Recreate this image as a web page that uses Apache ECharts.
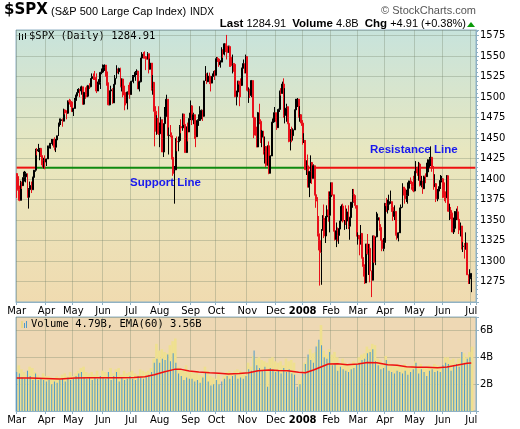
<!DOCTYPE html>
<html>
<head>
<meta charset="utf-8">
<script src="https://cdn.jsdelivr.net/npm/echarts/dist/echarts.min.js"></script>
<style>
html, body { margin: 0; padding: 0; background: #fff; }
#chart { width: 520px; height: 429px; }
</style>
</head>
<body>
<div id="chart"></div>
<script>
// month tick labels and the trading-day index where each month starts
var monthLabels = ['Mar','Apr','May','Jun','Jul','Aug','Sep','Oct','Nov','Dec','2008','Feb','Mar','Apr','May','Jun','Jul'];
var monthStarts = [0,22,42,64,85,106,129,148,171,192,212,233,253,273,295,316,337];
var slotCount = 341; // a few empty days at the right edge

// $SPX daily, Mar 1 2007 .. Jul 1 2008
var closes = [
  1403.2,1387.2,1374.1,1395.4,1392.0,1401.9,1402.8,1406.6,1377.9,1387.2,1392.3,1387.0,1402.1,1410.9,1435.0,1434.5,1436.1,1437.5,1428.6,1417.2,1422.5,1420.9,
  1424.6,1437.8,1439.4,1443.8,1444.6,1448.4,1438.9,1447.8,1452.9,1468.3,1471.5,1472.5,1470.7,1484.4,1480.9,1480.4,1495.4,1494.3,1494.1,1482.4,
  1486.3,1495.9,1502.4,1505.6,1509.5,1507.7,1512.6,1491.5,1505.9,1503.2,1501.2,1514.1,1512.8,1522.8,1525.1,1524.1,1522.3,1507.5,1515.7,1518.1,1530.2,1530.6,
  1536.3,1539.2,1530.9,1517.4,1490.7,1507.7,1509.1,1493.0,1515.7,1523.0,1532.9,1531.1,1535.0,1512.8,1522.2,1502.6,1497.7,1492.9,1506.3,1505.7,1503.4,
  1519.4,1524.9,1525.4,1530.4,1531.9,1510.1,1518.8,1547.7,1552.5,1549.5,1549.4,1546.2,1553.1,1534.1,1541.6,1511.0,1518.1,1482.7,1459.0,1473.9,1455.3,
  1465.8,1472.2,1433.1,1467.7,1476.7,1497.5,1453.1,1453.6,1452.9,1426.5,1406.7,1411.3,1445.9,1445.6,1447.1,1464.1,1462.5,1479.4,1466.8,1432.4,1463.8,1457.6,1474.0,
  1489.4,1472.3,1478.6,1453.6,1451.7,1471.5,1471.6,1484.0,1484.3,1476.7,1519.8,1529.0,1518.8,1525.8,1517.7,1517.2,1525.4,1531.4,1526.8,
  1547.0,1546.6,1539.6,1542.8,1557.6,1552.6,1565.2,1562.5,1554.4,1561.8,1548.7,1538.5,1541.2,1540.1,1500.6,1506.3,1519.6,1515.9,1514.4,1535.3,1541.0,1531.0,1549.4,
  1508.4,1509.7,1502.2,1520.3,1475.6,1474.8,1453.7,1439.2,1481.1,1470.6,1451.2,1458.7,1433.3,1439.7,1416.8,1440.7,1407.2,1428.2,1469.0,1469.7,1481.1,
  1472.4,1462.8,1485.0,1507.3,1504.7,1516.0,1477.7,1486.6,1488.4,1468.0,1445.9,1455.0,1453.0,1460.1,1484.5,1496.5,1497.7,1476.3,1478.5,1468.4,
  1447.2,1447.2,1411.6,1416.2,1390.2,1409.1,1420.3,1401.0,1416.3,1381.0,1373.2,1333.3,1325.2,1310.5,1338.6,1352.1,1330.6,1354.0,1362.3,1355.8,1378.6,
  1395.4,1380.8,1336.6,1326.5,1336.9,1331.3,1339.1,1348.9,1367.2,1348.9,1350.0,1348.8,1360.0,1342.5,1353.1,1371.8,1381.3,1380.0,1367.7,1330.6,
  1331.3,1326.8,1333.7,1304.3,1293.4,1273.4,1320.7,1308.8,1315.5,1288.1,1276.6,1330.7,1298.4,1329.5,1349.9,1353.0,1341.1,1325.8,1315.2,1322.7,
  1370.2,1367.5,1369.3,1370.4,1372.5,1365.5,1354.5,1360.6,1332.8,1328.3,1334.4,1364.7,1365.6,1390.3,1388.2,1375.9,1379.9,1388.8,1397.8,1396.4,1390.9,1385.6,
  1409.3,1413.9,1407.5,1418.3,1392.6,1397.7,1388.3,1403.6,1403.0,1408.7,1423.6,1425.4,1426.6,1413.4,1390.7,1394.4,1375.9,1385.4,1390.8,1398.3,1400.4,
  1385.7,1377.7,1377.2,1404.1,1360.7,1361.8,1358.4,1335.5,1339.9,1360.0,1360.1,1350.9,1337.8,1342.8,1317.9,1318.0,1314.3,1322.0,1283.2,1278.4,1280.0,
  1284.9
];
var highs = [
  1406,1403,1392,1398,1397,1409,1410,1409,1404,1389,1397,1397,1403,1411,1437,1438,1443,1438,1437,1428,1426,1429,
  1425,1441,1441,1444,1449,1449,1451,1449,1453,1469,1474,1474,1474,1486,1485,1484,1496,1498,1497,1495,
  1487,1499,1503,1510,1511,1509,1514,1512,1506,1512,1514,1515,1517,1523,1529,1529,1532,1529,1519,1522,1531,1535,
  1540,1540,1539,1530,1518,1508,1514,1511,1516,1527,1539,1535,1536,1536,1523,1521,1514,1506,1507,1515,1518,
  1520,1527,1527,1532,1534,1532,1520,1548,1555,1555,1556,1549,1555,1553,1547,1541,1527,1518,1489,1478,1489,
  1469,1476,1473,1468,1488,1503,1497,1463,1466,1457,1430,1416,1450,1452,1452,1466,1473,1480,1479,1467,1464,1469,1481,
  1496,1489,1481,1478,1462,1473,1479,1489,1485,1484,1520,1538,1529,1530,1530,1518,1529,1532,1533,
  1549,1549,1547,1545,1561,1558,1566,1565,1576,1563,1563,1548,1552,1541,1540,1508,1520,1519,1523,1536,1546,1541,1552,
  1549,1512,1510,1521,1520,1482,1475,1464,1482,1492,1473,1460,1459,1452,1439,1441,1446,1429,1470,1474,1488,
  1481,1472,1486,1508,1511,1519,1523,1511,1492,1487,1468,1461,1464,1462,1485,1498,1499,1493,1489,1475,
  1472,1456,1444,1423,1430,1410,1429,1419,1418,1412,1391,1378,1355,1322,1339,1356,1369,1355,1368,1385,1385,
  1396,1396,1380,1345,1347,1341,1340,1367,1369,1370,1350,1368,1364,1368,1354,1372,1388,1388,1380,1367,
  1335,1331,1344,1333,1303,1296,1321,1333,1321,1321,1285,1331,1331,1330,1360,1358,1353,1345,1334,1328,
  1371,1377,1375,1381,1386,1370,1368,1368,1360,1335,1335,1365,1369,1395,1390,1388,1387,1396,1398,1402,1397,1404,
  1410,1422,1415,1421,1420,1404,1395,1404,1407,1420,1424,1427,1440,1424,1416,1406,1394,1388,1391,1405,1404,
  1400,1396,1385,1405,1404,1370,1366,1359,1353,1361,1364,1367,1351,1347,1342,1323,1322,1335,1321,1283,1290,
  1285
];
var lows = [
  1377,1386,1373,1374,1388,1392,1397,1396,1377,1364,1387,1383,1387,1400,1409,1429,1433,1423,1427,1414,1413,1412,
  1416,1425,1436,1437,1443,1441,1435,1433,1440,1453,1464,1466,1464,1471,1479,1473,1480,1491,1488,1482,
  1477,1486,1496,1501,1505,1500,1503,1491,1491,1498,1500,1500,1510,1512,1522,1521,1521,1505,1508,1513,1510,1528,
  1530,1532,1525,1514,1490,1490,1506,1492,1493,1515,1523,1529,1528,1512,1507,1500,1484,1490,1485,1503,1498,
  1503,1519,1517,1520,1527,1510,1507,1518,1545,1547,1547,1533,1546,1529,1534,1508,1503,1440,1458,1454,1454,
  1439,1460,1433,1427,1455,1476,1453,1430,1451,1424,1404,1370,1411,1434,1434,1447,1456,1459,1466,1432,1432,1446,1458,
  1472,1466,1467,1449,1439,1452,1465,1472,1473,1471,1477,1520,1516,1519,1516,1507,1518,1526,1521,
  1527,1543,1537,1536,1543,1548,1551,1555,1546,1554,1537,1537,1529,1531,1500,1490,1504,1489,1500,1515,1536,1529,1529,
  1507,1493,1499,1500,1475,1450,1453,1439,1440,1467,1444,1439,1430,1419,1415,1418,1406,1407,1429,1458,1470,
  1470,1460,1463,1482,1502,1504,1475,1468,1470,1467,1445,1435,1445,1447,1463,1485,1488,1475,1470,1465,
  1442,1444,1411,1405,1390,1378,1395,1394,1402,1380,1365,1330,1313,1270,1271,1337,1328,1322,1350,1348,1335,
  1379,1380,1336,1325,1317,1324,1321,1339,1350,1347,1338,1344,1339,1339,1326,1344,1365,1372,1364,1330,
  1320,1307,1320,1303,1281,1272,1274,1308,1283,1274,1256,1277,1298,1295,1329,1342,1337,1325,1312,1312,
  1321,1360,1358,1362,1370,1360,1349,1350,1331,1326,1324,1335,1360,1366,1380,1370,1372,1370,1380,1394,1387,1384,
  1385,1406,1404,1398,1391,1390,1382,1388,1395,1404,1406,1414,1416,1409,1387,1391,1372,1373,1378,1388,1396,
  1377,1373,1371,1377,1360,1350,1351,1335,1333,1341,1350,1350,1333,1330,1314,1311,1303,1315,1283,1272,1272,
  1262
];
var firstOpen = 1406.8; // close of the day before the first bar

// volume, billions
var volumes = [
  2.9,3.4,2.8,3.1,2.5,2.9,2.4,2.7,3.0,3.3,2.6,3.2,2.3,2.9,2.8,2.7,2.3,2.5,2.4,2.8,2.3,2.6,
  2.2,2.6,2.3,2.5,2.0,2.4,2.2,2.6,2.1,2.5,2.3,2.7,2.4,2.8,2.2,2.6,2.5,2.9,2.3,2.6,
  2.4,2.8,2.6,3.0,2.8,3.2,2.9,3.3,2.5,2.9,2.4,2.8,2.5,2.9,2.3,2.7,2.5,3.0,2.4,2.6,2.6,3.0,
  2.5,2.9,2.4,2.8,2.9,3.2,2.3,2.8,2.6,3.1,2.9,3.2,2.2,2.7,2.5,3.0,2.3,2.8,2.4,2.9,2.6,
  3.0,2.4,2.8,2.3,2.7,2.6,3.1,2.5,3.0,2.4,2.9,2.6,3.0,2.7,3.2,2.9,3.9,3.6,5.0,3.9,4.5,
  3.6,4.6,3.9,4.4,3.8,4.3,4.2,4.9,3.7,5.2,4.3,5.4,3.6,3.3,2.8,3.1,2.6,3.0,2.3,3.4,2.5,2.9,2.4,
  3.0,2.4,2.8,2.2,2.9,2.3,2.7,2.1,2.6,2.5,3.3,2.9,3.0,2.2,2.6,1.9,2.5,2.0,2.4,
  2.3,2.8,2.0,1.6,2.2,2.6,2.4,2.9,2.6,3.0,2.4,2.8,2.6,3.0,2.7,3.1,2.4,3.0,2.5,2.9,2.4,2.7,2.6,
  3.6,3.1,3.3,3.0,4.1,4.5,3.9,3.4,4.0,3.2,3.8,3.0,3.7,3.3,3.6,1.8,3.9,3.2,4.0,3.1,3.7,
  2.9,3.6,3.0,3.7,2.8,3.4,3.2,3.9,2.9,3.7,3.1,3.8,2.8,3.6,2.7,1.0,1.8,2.3,2.0,2.6,
  2.8,3.6,3.5,4.0,4.2,4.6,3.8,4.3,3.6,4.4,4.8,5.1,5.3,6.4,4.9,4.5,4.0,4.2,3.9,4.6,4.4,
  4.2,3.4,4.4,3.5,4.0,3.0,3.5,3.3,3.9,3.1,3.6,3.0,3.5,2.9,3.4,3.1,3.7,3.2,3.6,3.5,
  4.0,3.6,4.2,3.8,4.3,3.9,4.8,4.3,4.6,4.4,5.0,4.6,4.9,3.7,3.9,3.4,3.8,3.1,3.5,3.2,
  4.1,3.8,3.7,3.0,3.4,2.9,3.3,2.8,3.5,3.0,3.4,2.9,3.3,2.8,3.5,3.0,3.3,2.7,3.2,2.9,3.4,3.1,
  3.7,3.6,3.3,2.8,3.5,3.1,3.2,2.9,3.3,2.6,3.4,3.0,3.2,3.1,3.5,2.9,3.4,3.0,3.3,2.9,3.3,
  3.4,4.0,3.6,4.0,3.5,3.8,3.0,3.9,3.4,3.6,3.5,3.9,3.3,4.0,4.4,4.3,3.6,4.0,3.9,4.4,4.0,
  4.79
];

// EMA(60) of volume: [day index, billions]
var emaPoints = [
  [0,2.45],[10,2.45],[21,2.42],[32,2.38],[43,2.45],[54,2.48],[65,2.47],[76,2.48],[87,2.5],[95,2.55],
  [102,2.7],[109,2.9],[117,3.1],[122,3.1],[128,2.98],[135,2.9],[143,2.85],[150,2.82],[157,2.75],[165,2.8],
  [172,2.85],[179,3.0],[187,3.05],[194,3.02],[201,3.0],[209,2.88],[214,2.85],[220,3.05],[226,3.3],[231,3.5],
  [238,3.52],[245,3.45],[253,3.5],[260,3.62],[267,3.6],[275,3.45],[282,3.4],[289,3.3],[297,3.25],[304,3.25],
  [312,3.22],[319,3.28],[326,3.4],[334,3.55],[337,3.58]
];

// support / resistance level and where its colour changes
var levelPrice = 1414;
var levelBreaks = [0, 14, 215, 340];
var levelColors = ['#ee1111', '#0f8a0f', '#ee1111'];

var chart = echarts.init(document.getElementById('chart'));

var axisBlue = '#8fb1c4';
var gridColor = 'rgba(115,130,105,0.33)';
var font = '"DejaVu Sans", Verdana, sans-serif';

var slots = [];
for (var i = 0; i < slotCount; i++) slots.push(String(i));

function isMonthStart(idx) { return monthStarts.indexOf(idx) >= 0; }
function monthLabel(value, idx) {
  var k = monthStarts.indexOf(idx);
  if (k < 0) return '';
  return monthLabels[k] === '2008' ? '{b|2008}' : monthLabels[k];
}

var candles = closes.map(function (c, i) {
  var open = i === 0 ? firstOpen : closes[i - 1];
  return [open, c, lows[i], highs[i]];
});

// stockcharts paints the volume columns alternately: thin blue, wider pale yellow
var blueVols = volumes.map(function (v, i) { return i % 2 === 0 ? v : null; });
var yellowVols = volumes.map(function (v, i) { return i % 2 === 1 ? v : null; });

var levelSeries = [];
for (var s = 0; s < levelColors.length; s++) {
  levelSeries.push({
    type: 'line', xAxisIndex: 0, yAxisIndex: 0, z: 1,
    symbol: 'none', silent: true,
    lineStyle: { color: levelColors[s], width: 2 },
    data: [[levelBreaks[s], levelPrice], [levelBreaks[s + 1], levelPrice]]
  });
}

function makeXAxis(gridIndex) {
  return {
    type: 'category', gridIndex: gridIndex, data: slots, boundaryGap: true,
    axisLine: { lineStyle: { color: axisBlue } },
    axisTick: { show: true, interval: isMonthStart, length: 3, lineStyle: { color: axisBlue } },
    axisLabel: {
      interval: isMonthStart, formatter: monthLabel, margin: 4,
      color: '#000', fontFamily: font, fontSize: 10,
      rich: { b: { fontWeight: 'bold', fontFamily: font, fontSize: 10, color: '#000' } }
    },
    splitLine: { show: true, interval: isMonthStart, lineStyle: { color: gridColor } }
  };
}

var option = {
  animation: false,
  backgroundColor: '#ffffff',
  grid: [
    {
      left: 16, right: 44, top: 30, height: 272, show: true,
      borderColor: axisBlue, borderWidth: 1,
      backgroundColor: new echarts.graphic.LinearGradient(0, 0, 0, 1, [
        { offset: 0, color: '#c7e3dc' },
        { offset: 0.45, color: '#e8e7bf' },
        { offset: 1, color: '#f0dbb0' }
      ])
    },
    {
      left: 16, right: 44, top: 317, height: 94, show: true,
      borderColor: axisBlue, borderWidth: 1, backgroundColor: '#eed8b4'
    }
  ],
  xAxis: [makeXAxis(0), makeXAxis(1)],
  yAxis: [
    {
      type: 'value', gridIndex: 0, position: 'right', min: 1250, max: 1582, interval: 25,
      axisLine: { show: true, lineStyle: { color: axisBlue } },
      axisTick: { show: true, length: 3, lineStyle: { color: axisBlue } },
      minorTick: { show: true, splitNumber: 5, length: 2, lineStyle: { color: axisBlue } },
      axisLabel: {
        margin: 4, color: '#000', fontFamily: font, fontSize: 10,
        formatter: function (v) { return (v > 1250 && v <= 1575 && v % 25 === 0) ? String(v) : ''; }
      },
      splitLine: { lineStyle: { color: gridColor } }
    },
    {
      type: 'value', gridIndex: 1, position: 'right', min: 0, max: 7, interval: 2,
      axisLine: { show: true, lineStyle: { color: axisBlue } },
      axisTick: { show: true, length: 3, lineStyle: { color: axisBlue } },
      axisLabel: {
        margin: 4, color: '#000', fontFamily: font, fontSize: 10,
        formatter: function (v) { return (v > 0 && v < 7) ? v + 'B' : ''; }
      },
      splitLine: { lineStyle: { color: gridColor } }
    }
  ],
  series: levelSeries.concat([
    {
      type: 'candlestick', xAxisIndex: 0, yAxisIndex: 0, z: 3,
      barWidth: 1.4,
      itemStyle: {
        color: '#000000', color0: '#e8101a',
        borderColor: '#000000', borderColor0: '#e8101a', borderWidth: 1
      },
      data: candles
    },
    {
      type: 'bar', xAxisIndex: 1, yAxisIndex: 1, z: 2, barWidth: 2.6,
      itemStyle: { color: '#efe08f' },
      data: yellowVols
    },
    {
      type: 'bar', xAxisIndex: 1, yAxisIndex: 1, z: 3, barWidth: 1, barGap: '-100%',
      itemStyle: { color: '#4d9acb' },
      data: blueVols
    },
    {
      type: 'line', xAxisIndex: 1, yAxisIndex: 1, z: 4,
      symbol: 'none', lineStyle: { color: '#ee1111', width: 1.5 },
      data: emaPoints
    }
  ]),
  graphic: [
    { type: 'text', left: 4, top: 3, style: { text: '$SPX', font: 'bold 15px "DejaVu Sans"', fill: '#000' } },
    { type: 'text', left: 51, top: 6, style: { text: '(S&P 500 Large Cap Index)', font: '11px "Liberation Sans"', fill: '#000' } },
    { type: 'text', left: 190, top: 7, style: { text: 'INDX', font: '10px "Liberation Sans"', fill: '#000' } },
    { type: 'text', right: 44, top: 5, style: { text: '\u00a9 StockCharts.com', font: '11px "Liberation Sans"', fill: '#555' } },
    {
      type: 'text', right: 54, top: 18,
      style: {
        text: '{b|Last} 1284.91  {b|Volume} 4.8B  {b|Chg} +4.91 (+0.38%)',
        font: '11px "Liberation Sans"', fill: '#000',
        rich: { b: { font: 'bold 11.5px "Liberation Sans"', fill: '#000' } }
      }
    },
    { type: 'polygon', shape: { points: [[467, 27], [475, 27], [471, 22]] }, style: { fill: '#0a9a0a' } },
    // legend glyph + text, price panel
    { type: 'rect', shape: { x: 19, y: 33, width: 1, height: 7 }, style: { fill: '#000' } },
    { type: 'rect', shape: { x: 22, y: 34, width: 1, height: 6 }, style: { fill: '#000' } },
    { type: 'rect', shape: { x: 25, y: 33, width: 1, height: 6 }, style: { fill: '#000' } },
    { type: 'text', left: 29, top: 31, style: { text: '$SPX (Daily) 1284.91', font: '10.5px "DejaVu Sans Mono"', fill: '#000' } },
    // legend glyph + text, volume panel
    { type: 'rect', shape: { x: 21, y: 321, width: 2, height: 7 }, style: { fill: '#e8d98a' } },
    { type: 'rect', shape: { x: 24, y: 323, width: 1, height: 5 }, style: { fill: '#4d9acb' } },
    { type: 'rect', shape: { x: 26, y: 321, width: 1, height: 7 }, style: { fill: '#4d9acb' } },
    { type: 'text', left: 31, top: 319, style: { text: 'Volume 4.79B, EMA(60) 3.56B', font: '10.5px "DejaVu Sans Mono"', fill: '#000' } },
    // annotations
    { type: 'text', left: 130, top: 177, z: 2, style: { text: 'Support Line', font: 'bold 11.5px "Liberation Sans"', fill: '#1818ee' } },
    { type: 'text', left: 370, top: 144, z: 2, style: { text: 'Resistance Line', font: 'bold 11.5px "Liberation Sans"', fill: '#1818ee' } }
  ]
};

chart.setOption(option);
</script>
</body>
</html>
